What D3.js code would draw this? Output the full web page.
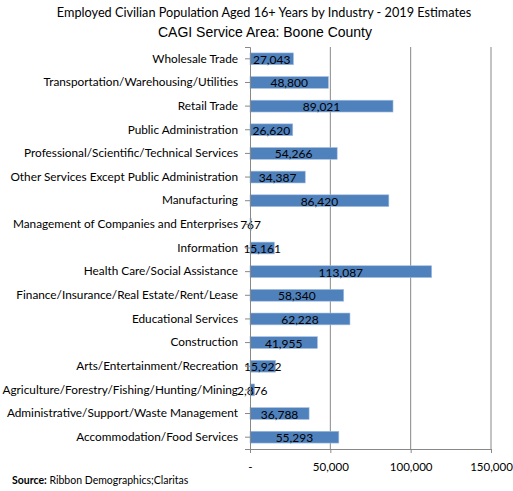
<!DOCTYPE html>
<html>
<head>
<meta charset="utf-8">
<script src="https://d3js.org/d3.v7.min.js"></script>
<style>
  body { margin: 0; background: #fff; }
  text { font-family: Lato, "Open Sans", sans-serif; }
</style>
</head>
<body>
<script>
// Industry categories, top to bottom as in the chart
var categories = [
  "Wholesale Trade",
  "Transportation/Warehousing/Utilities",
  "Retail Trade",
  "Public Administration",
  "Professional/Scientific/Technical Services",
  "Other Services Except Public Administration",
  "Manufacturing",
  "Management of Companies and Enterprises",
  "Information",
  "Health Care/Social Assistance",
  "Finance/Insurance/Real Estate/Rent/Lease",
  "Educational Services",
  "Construction",
  "Arts/Entertainment/Recreation",
  "Agriculture/Forestry/Fishing/Hunting/Mining",
  "Administrative/Support/Waste Management",
  "Accommodation/Food Services"
];
var employed = [27043, 48800, 89021, 26620, 54266, 34387, 86420, 767, 15161,
  113087, 58340, 62228, 41955, 15922, 2876, 36788, 55293];
var xTicks = [0, 50000, 100000, 150000];

var width = 513, height = 491;
var margin = { left: 250, right: 22, top: 47, bottom: 42 };

var svg = d3.select("body").append("svg")
  .attr("width", width)
  .attr("height", height);

var x = d3.scaleLinear().domain([0, 150000])
  .range([margin.left, width - margin.right]);
var y = d3.scaleBand().domain(categories)
  .range([margin.top, height - margin.bottom])
  .paddingInner(0.5).paddingOuter(0.25);

// titles
svg.append("text").attr("x", 264).attr("y", 17)
  .attr("text-anchor", "middle").attr("font-size", 12.7).attr("fill", "#000")
  .text("Employed Civilian Population Aged 16+ Years by Industry - 2019 Estimates");
svg.append("text").attr("x", 265).attr("y", 37)
  .attr("text-anchor", "middle").attr("font-size", 14)
  .style("font-family", "'Liberation Sans', Arial, sans-serif")
  .text("CAGI Service Area: Boone County");

// gridlines
svg.append("g").selectAll("line")
  .data(xTicks.slice(1)).enter().append("line")
  .attr("x1", function(d) { return x(d); })
  .attr("x2", function(d) { return x(d); })
  .attr("y1", margin.top).attr("y2", height - margin.bottom)
  .attr("stroke", "#888").attr("stroke-width", 1);

// bars
svg.append("g").selectAll("rect")
  .data(employed).enter().append("rect")
  .attr("x", x(0))
  .attr("y", function(d, i) { return y(categories[i]); })
  .attr("width", function(d) { return x(d) - x(0); })
  .attr("height", y.bandwidth())
  .attr("fill", "#4f81bd")
  .attr("stroke", "#a7c0e0").attr("stroke-width", 0.6);

// value labels
svg.append("g").selectAll("text")
  .data(employed).enter().append("text")
  .attr("x", function(d) { return (x(0) + x(d)) / 2; })
  .attr("y", function(d, i) { return y(categories[i]) + y.bandwidth() / 2 + 5; })
  .attr("text-anchor", "middle").attr("font-size", 12).attr("fill", "#000")
  .text(function(d) { return d3.format(",")(d); });

// y axis
var yAxis = svg.append("g")
  .attr("transform", "translate(" + x(0) + ",0)")
  .call(d3.axisLeft(y).tickSize(5).tickPadding(7).tickSizeOuter(5));
yAxis.select(".domain").attr("stroke", "#888");
yAxis.selectAll(".tick line").attr("stroke", "#888");
yAxis.selectAll(".tick text").attr("font-size", 11.8).attr("fill", "#000")
  .style("font-family", "Lato, sans-serif");

// x axis
var xAxis = svg.append("g")
  .attr("transform", "translate(0," + (height - margin.bottom) + ")")
  .call(d3.axisBottom(x).tickValues(xTicks).tickSize(4).tickPadding(10)
    .tickFormat(function(d) { return d === 0 ? "-" : d3.format(",")(d); }));
xAxis.select(".domain").attr("stroke", "#888");
xAxis.selectAll(".tick line").attr("stroke", "#888");
xAxis.selectAll(".tick text").attr("font-size", 11.5).attr("fill", "#000")
  .style("font-family", "Lato, sans-serif");

// source note
var src = svg.append("text").attr("x", 12).attr("y", 484).attr("font-size", 10.5);
src.append("tspan").attr("font-weight", "bold").text("Source:");
src.append("tspan").text(" Ribbon Demographics;Claritas");
</script>
</body>
</html>
